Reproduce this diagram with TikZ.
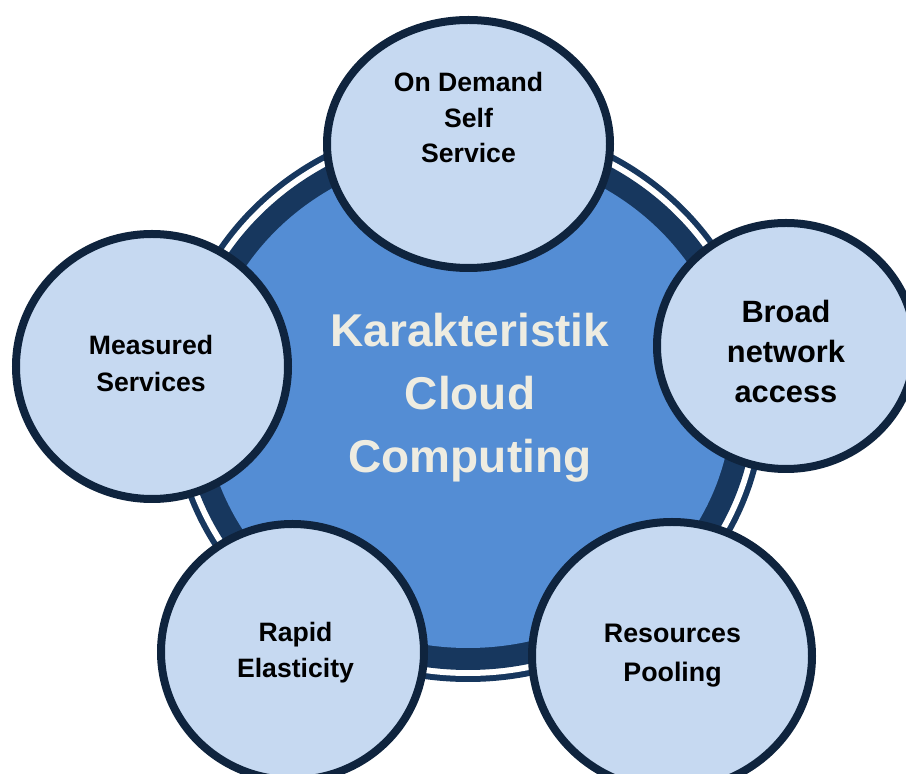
\documentclass[tikz,border=0pt]{standalone}
\usepackage{fontspec}
\setmainfont{Liberation Sans}

\definecolor{ringdark}{HTML}{17375E}
\definecolor{hubblue}{HTML}{548DD4}
\definecolor{satfill}{HTML}{C6D9F1}
\definecolor{satline}{HTML}{0F243E}
\definecolor{hubtext}{HTML}{EEECE1}

% centred block of lines whose baseline is the baseline of the first line
\newcommand\labelstack[3]{{\fontsize{#1}{#2}\selectfont\begin{tabular}[t]{@{}c@{}}#3\end{tabular}}}

\tikzset{
  satellite/.style={fill=satfill, draw=satline, line width=4pt},
  satlabel/.style={anchor=base, inner sep=0pt, font=\bfseries, text=black},
  hublabel/.style={anchor=base, inner sep=0pt, font=\bfseries, text=hubtext},
}

\begin{document}
\begin{tikzpicture}[x=0.5pt, y=-0.5pt]
  \useasboundingbox (0,0) rectangle (906,774);
  \clip (0,0) rectangle (906,774);

  % central hub: thin outer ring, white gap, thick band, blue disc
  \fill[ringdark] (468,400.5) ellipse [x radius=298, y radius=281.5];
  \fill[white]    (468,400.5) ellipse [x radius=292, y radius=275.5];
  \fill[ringdark] (468,400.5) ellipse [x radius=286, y radius=269.5];
  \fill[hubblue]  (468,400.5) ellipse [x radius=264, y radius=247.5];

  \node[hublabel] (hub) at (470,347)
    {\labelstack{23pt}{31.5pt}{Karakteristik\\Cloud\\Computing}};

  % the five characteristics
  \draw[satellite] (468.5,144) ellipse [x radius=141.5, y radius=124];
  \node[satlabel] (ondemand) at (468.5,92)
    {\labelstack{13.3pt}{17.75pt}{On Demand\\Self\\Service}};

  \draw[satellite] (786,346) ellipse [x radius=129, y radius=123];
  \node[satlabel] (broad) at (786,323)
    {\labelstack{15.4pt}{20pt}{Broad\\network\\access}};

  \draw[satellite] (672,656) ellipse [x radius=140, y radius=134];
  \node[satlabel] (pooling) at (672.5,643)
    {\labelstack{13.4pt}{19.5pt}{Resources\\Pooling}};

  \draw[satellite] (292.5,652) ellipse [x radius=131.5, y radius=128];
  \node[satlabel] (elastic) at (295.5,642)
    {\labelstack{13.3pt}{18pt}{Rapid\\Elasticity}};

  \draw[satellite] (152,366.5) ellipse [x radius=136, y radius=132.5];
  \node[satlabel] (measured) at (151,355)
    {\labelstack{13.3pt}{18.5pt}{Measured\\Services}};
\end{tikzpicture}
\end{document}
